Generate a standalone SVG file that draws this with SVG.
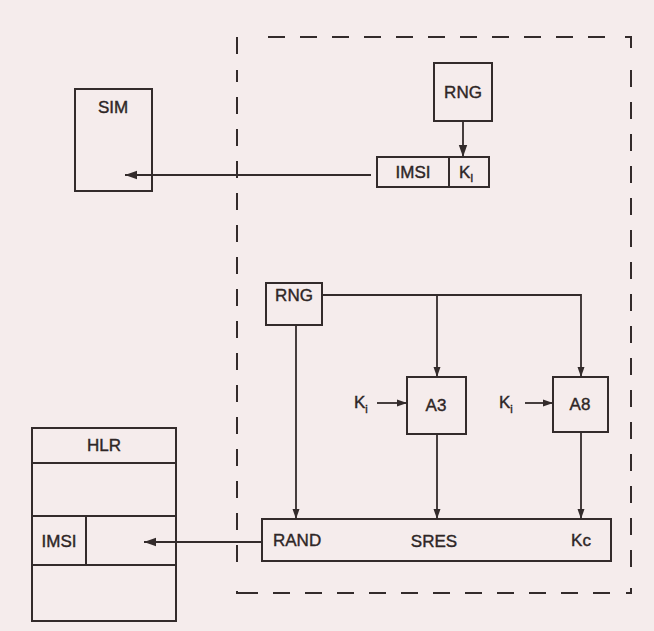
<svg xmlns="http://www.w3.org/2000/svg" width="654" height="631" viewBox="0 0 654 631">
<defs>
<style>
.b{fill:none;stroke:#332b2b;stroke-width:2}
.l{fill:none;stroke:#332b2b;stroke-width:1.8}
.d{fill:none;stroke:#332b2b;stroke-width:2;stroke-dasharray:17 15}
text{font-family:"Liberation Sans",Arial,sans-serif;font-size:17px;fill:#2e2626;stroke:#2e2626;stroke-width:0.4}
.c{text-anchor:middle}
.s{font-size:11px}
</style>
<marker id="a" viewBox="0 0 10 10" refX="10" refY="5" markerWidth="10" markerHeight="10" markerUnits="userSpaceOnUse" orient="auto">
<path d="M0,1.5 L10,5 L0,8.5 Z" fill="#332b2b"/>
</marker>
<marker id="aw" viewBox="0 0 10 10" refX="10" refY="5" markerWidth="16" markerHeight="12" markerUnits="userSpaceOnUse" orient="auto">
<path d="M0,1.5 L10,5 L0,8.5 Z" fill="#332b2b"/>
</marker>
</defs>
<rect width="654" height="631" fill="#f5ecec"/>
<g id="boundary">
<path class="d" d="M237,54 V37 H252"/>
<path class="d" d="M268,37 H614"/>
<path class="d" d="M625,37 H631 V54"/>
<path class="d" d="M631,70 V578"/>
<path class="d" d="M631,588 V593 H626"/>
<path class="d" d="M610,593 H252"/>
<path class="d" d="M252,593 H237 V578"/>
<path class="d" d="M237,562 V70"/>
</g>
<g id="rng1"><rect class="b" x="434" y="63" width="58" height="58"/><text class="c" x="463" y="98">RNG</text></g>
<g id="imsiki"><rect class="b" x="377" y="157" width="112" height="30"/><line class="b" x1="449" y1="157" x2="449" y2="187"/><text class="c" x="413" y="178">IMSI</text><text x="459" y="178">K<tspan class="s" dy="4">I</tspan></text></g>
<g id="sim"><rect class="b" x="75" y="89" width="77" height="102"/><text class="c" x="113" y="113">SIM</text></g>
<g id="hlr"><rect class="b" x="32" y="428" width="144" height="193"/><line class="b" x1="32" y1="463" x2="176" y2="463"/><line class="b" x1="32" y1="516" x2="176" y2="516"/><line class="b" x1="32" y1="565" x2="176" y2="565"/><line class="b" x1="86" y1="516" x2="86" y2="565"/><text class="c" x="104" y="451">HLR</text><text class="c" x="59" y="547">IMSI</text></g>
<g id="rng2"><rect class="b" x="266" y="283" width="56" height="42"/><text class="c" x="294" y="301">RNG</text></g>
<g id="a3"><rect class="b" x="407" y="377" width="59" height="57"/><text class="c" x="436" y="411">A3</text></g>
<g id="a8"><rect class="b" x="553" y="377" width="55" height="55"/><text class="c" x="580" y="410">A8</text></g>
<g id="ki1"><text x="354" y="408">K<tspan class="s" dy="5">i</tspan></text></g>
<g id="ki2"><text x="499" y="408">K<tspan class="s" dy="5">i</tspan></text></g>
<g id="out"><rect class="b" x="262" y="519" width="349" height="42"/><text x="273" y="546">RAND</text><text class="c" x="434" y="547">SRES</text><text class="c" x="581" y="546">Kc</text></g>
<g id="connectors">
<line class="l" x1="463" y1="121" x2="463" y2="157" marker-end="url(#aw)"/>
<line class="l" x1="371" y1="175" x2="125" y2="175" marker-end="url(#aw)"/>
<line class="l" x1="262" y1="542" x2="144" y2="542" marker-end="url(#aw)"/>
<polyline class="l" points="322,295 581,295 581,377" marker-end="url(#a)"/>
<line class="l" x1="437" y1="295" x2="437" y2="377" marker-end="url(#a)"/>
<line class="l" x1="296" y1="325" x2="296" y2="519" marker-end="url(#a)"/>
<line class="l" x1="437" y1="434" x2="437" y2="519" marker-end="url(#a)"/>
<line class="l" x1="581" y1="432" x2="581" y2="519" marker-end="url(#a)"/>
<line class="l" x1="377" y1="403" x2="407" y2="403" marker-end="url(#a)"/>
<line class="l" x1="525" y1="403" x2="553" y2="403" marker-end="url(#a)"/>
</g>
</svg>
